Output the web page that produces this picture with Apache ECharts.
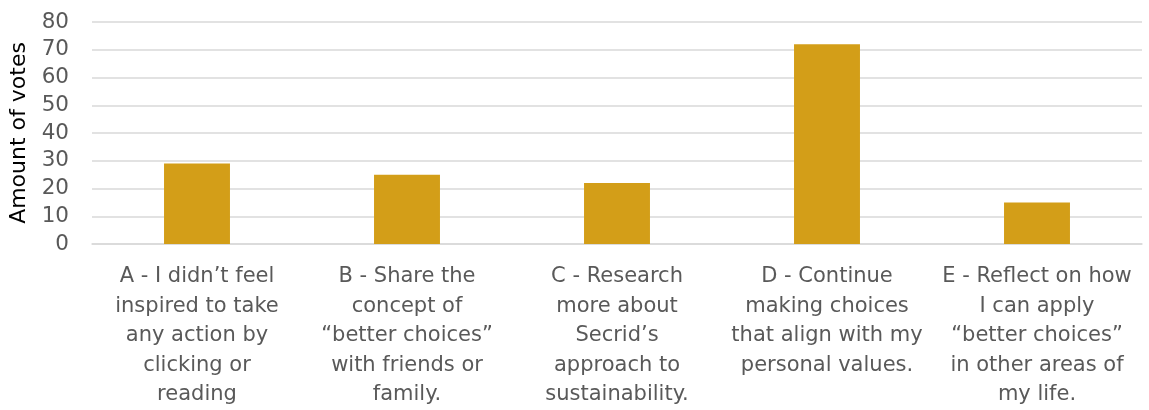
<!DOCTYPE html>
<html><head><meta charset="utf-8">
<script src="https://cdn.jsdelivr.net/npm/echarts@6/dist/echarts.min.js"></script>
<style>html,body{margin:0;padding:0;background:#fff}#c{width:1149px;height:410px}</style>
</head><body><div id="c"></div>
<script>
const categories = [
  "A - I didn’t feel\ninspired to take\nany action by\nclicking or\nreading",
  "B - Share the\nconcept of\n“better choices”\nwith friends or\nfamily.",
  "C - Research\nmore about\nSecrid’s\napproach to\nsustainability.",
  "D - Continue\nmaking choices\nthat align with my\npersonal values.",
  "E - Reflect on how\nI can apply\n“better choices”\nin other areas of\nmy life."
];
const votes = [29, 25, 22, 72, 15];
const yAxisName = "Amount of votes";

const chart = echarts.init(document.getElementById('c'));
const font = "'DejaVu Sans', sans-serif";
chart.setOption({
  animation: false,
  grid: {left: 92, right: 7, top: 22, bottom: 166},
  xAxis: {
    type: 'category', data: categories,
    axisLine: {show: true, lineStyle: {color: '#d9d9d9', width: 1.5}},
    axisTick: {show: false},
    axisLabel: {interval: 0, color: '#595959', fontSize: 21, fontFamily: font, lineHeight: 29.5, margin: 18, align: 'center'}
  },
  yAxis: {
    type: 'value', min: 0, max: 80, interval: 10,
    name: yAxisName, nameLocation: 'middle', nameGap: 55, nameRotate: 90,
    nameTextStyle: {color: '#000', fontSize: 22, fontFamily: font},
    axisLine: {show: false}, axisTick: {show: false},
    axisLabel: {color: '#595959', fontSize: 21.5, fontFamily: font, margin: 23},
    splitLine: {lineStyle: {color: '#d9d9d9', width: 1.5}}
  },
  series: [{
    type: 'bar', data: votes, barWidth: '31.4%',
    itemStyle: {color: '#D39E18'}
  }]
});
</script></body></html>
